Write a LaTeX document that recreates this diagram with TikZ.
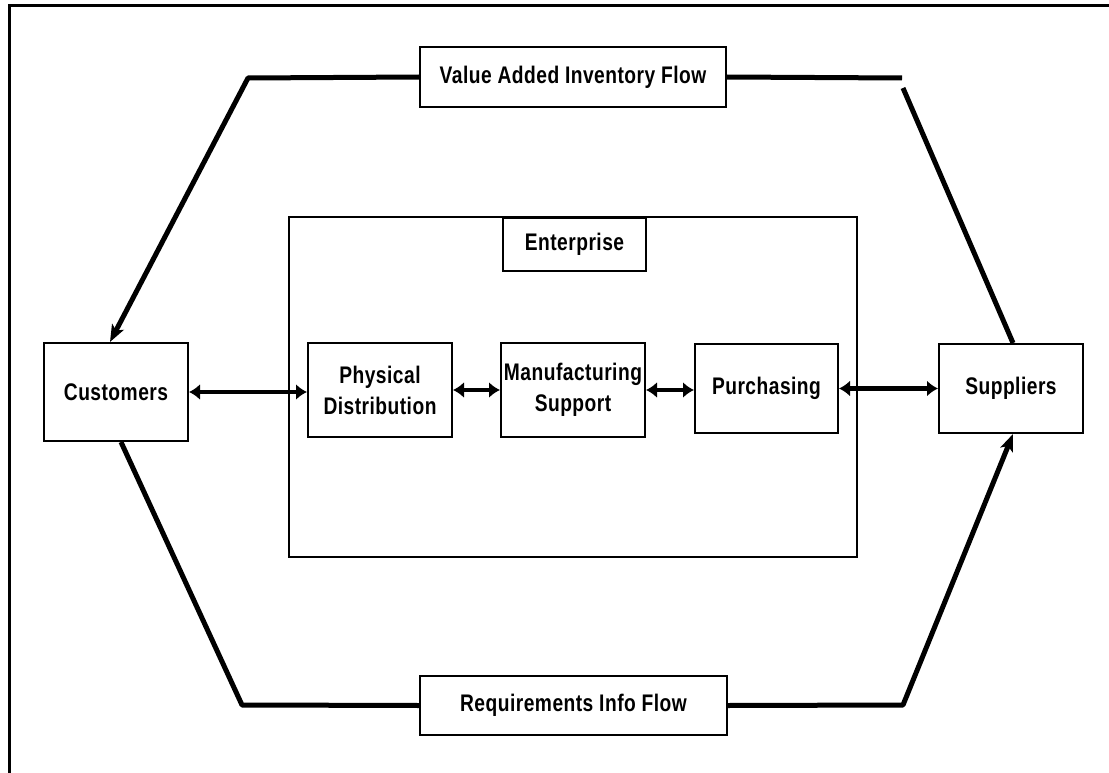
\documentclass[tikz,border=0pt]{standalone}
\usepackage{fontspec}
\newfontfamily\lblfamily{Liberation Sans}[FakeStretch=0.8, LetterSpace=2]
\usetikzlibrary{arrows.meta}

\tikzset{
  lbl/.style={font=\lblfamily\bfseries\fontsize{24}{31}\selectfont},
  box/.style={draw, line width=2pt, fill=white, inner sep=0pt, align=center, lbl},
  flow/.style={line width=5pt, line join=round},
  flowtip/.style={-{Stealth[length=17pt,width=13pt,inset=4pt]}},
  dbl/.style={line width=4.5pt,
    {Latex[length=11pt,width=16pt]}-{Latex[length=11pt,width=16pt]}},
  frame/.style={line width=3pt}
}

\begin{document}
\begin{tikzpicture}[x=1pt, y=-1pt]
  \useasboundingbox (0,0) rectangle (1109,773);

  % page frame
  \draw[frame] (9,773) -- (9,6) -- (1109,6);

  % enterprise and its functions
  \node[box, minimum width=568, minimum height=340] (ent) at (573,387) {};
  \node[box, minimum width=143, minimum height=53] (entlbl) at (574.5,244.5) {Enterprise};
  \node[box, minimum width=144, minimum height=94] (pd) at (380,390) {Physical\\Distribution};
  \node[box, minimum width=144, minimum height=94] (ms) at (573,390) {Manufacturing\\Support};
  \node[box, minimum width=143, minimum height=89] (pur) at (766.5,388.5) {Purchasing};

  % trading partners
  \node[box, minimum width=144, minimum height=98] (cust) at (116,392) {Customers};
  \node[box, minimum width=144, minimum height=89] (supp) at (1011,388.5) {Suppliers};

  % flow labels
  \node[box, minimum width=306, minimum height=60] (vaf) at (573,77) {Value Added Inventory Flow};
  \node[box, minimum width=307, minimum height=59] (rif) at (573.5,705.5) {Requirements Info Flow};

  % inventory flow: suppliers to customers
  \coordinate (tl) at (248,78);
  \coordinate (trA) at (902,78);
  \coordinate (trB) at (903,88);
  \draw[flow, flowtip] (vaf.west) -- (tl) -- ([xshift=-6pt]cust.north);
  \draw[flow] (vaf.east) -- (trA);
  \draw[flow] (trB) -- ([xshift=2pt]supp.north);

  % requirements flow: customers to suppliers
  \coordinate (bl) at (242,705);
  \coordinate (br) at (903,705);
  \draw[flow] ([xshift=5pt]cust.south) -- (bl) -- (rif.west);
  \draw[flow, flowtip] (rif.east) -- (br) -- ([xshift=2pt]supp.south);

  % two-way links
  \draw[dbl] (cust.east) -- (cust.east -| pd.west);
  \draw[dbl] (pd.east) -- (pd.east -| ms.west);
  \draw[dbl] (ms.east) -- (ms.east -| pur.west);
  \draw[dbl] (pur.east) -- (pur.east -| supp.west);
\end{tikzpicture}
\end{document}
